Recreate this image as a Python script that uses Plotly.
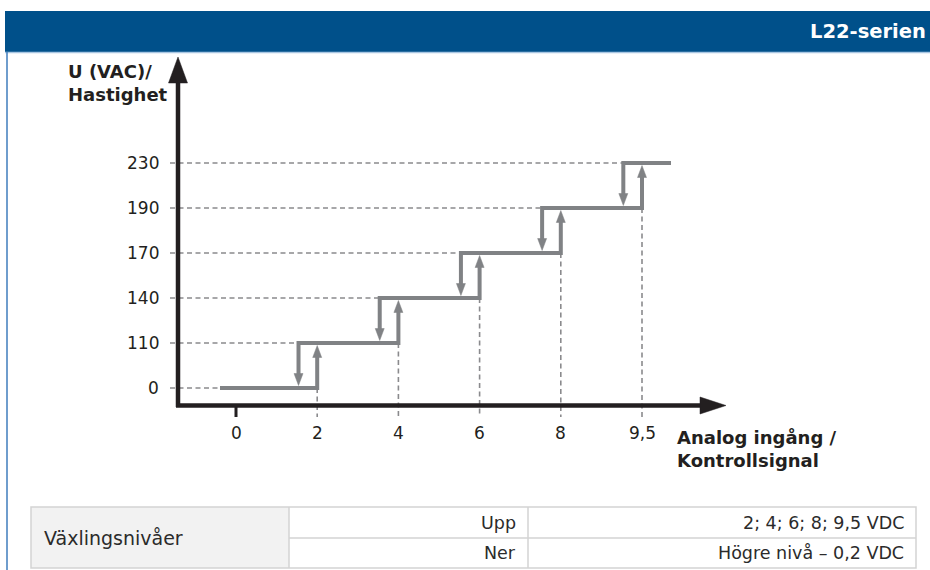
import plotly.graph_objects as go

W, H = 930, 570

# ---------------- data ----------------
header_text = "L22-serien"
y_levels = [0, 110, 140, 170, 190, 230]            # U (VAC) / Hastighet
y_tick_labels = ["0", "110", "140", "170", "190", "230"]
x_switch = [0, 2, 4, 6, 8, 9.5]                    # VDC switching levels
x_tick_labels = ["0", "2", "4", "6", "8", "9,5"]
y_title = "U (VAC)/<br>Hastighet"
x_title = "Analog ingång /<br>Kontrollsignal"
table_label = "Växlingsnivåer"
table_dirs = ["Upp", "Ner"]
table_vals = ["2; 4; 6; 8; 9,5 VDC", "Högre nivå – 0,2 VDC"]

# ---------------- layout / scale helpers ----------------
X0, DX = 236.0, 81.2     # pixel of schematic position 0, pixels per position
Y0, DY = 388.0, 45.0     # pixel of level 0, pixels per level


def dx(p):
    return (p - X0) / DX


def dy(p):
    return (Y0 - p) / DY


def px(p):
    return p / W


def py(p):
    return 1 - p / H


STEP_C = "#808285"
DASH_C = "#8a8a8d"
AX_C = "#231f20"
TXT_C = "#231f20"
DOWN_SHIFT = 0.23          # schematic shift of the "Ner" switching point
GAPY = 2.5 / DY
HEADY = 12 / DY
HW = 9 / DX

n = len(y_levels)
pos = list(range(n))        # schematic positions of x_switch / y_levels

fig = go.Figure()

# dashed guides: horizontal
hx, hy = [], []
for j in pos:
    xs_start = dx(220) if j == 0 else j - DOWN_SHIFT
    hx += [dx(170), xs_start, None]
    hy += [j, j, None]
# dashed guides: vertical
for i in pos[1:]:
    hx += [i, i, None]
    hy += [i - 1, dy(417), None]
fig.add_trace(go.Scatter(x=hx, y=hy, mode="lines", hoverinfo="skip",
                         line=dict(color=DASH_C, width=1.6, dash="5px,3.5px")))

# axes
fig.add_trace(go.Scatter(x=[dx(178), dx(178), None, dx(176), dx(703)],
                         y=[dy(407), dy(80), None, dy(405.5), dy(405.5)],
                         mode="lines", hoverinfo="skip",
                         line=dict(color=AX_C, width=4.5)))
fig.add_trace(go.Scatter(x=[pos[0], pos[0]], y=[dy(407), dy(417)], mode="lines",
                         hoverinfo="skip", line=dict(color=AX_C, width=3)))
# axis arrowheads
fig.add_trace(go.Scatter(
    x=[dx(178 - 9.5), dx(178), dx(178 + 9.5), dx(178 - 9.5), None,
       dx(700), dx(726), dx(700), dx(700)],
    y=[dy(83), dy(57), dy(83), dy(83), None,
       dy(405.5 - 8.5), dy(405.5), dy(405.5 + 8.5), dy(405.5 - 8.5)],
    mode="lines", fill="toself", fillcolor=AX_C, hoverinfo="skip",
    line=dict(color=AX_C, width=0.5)))

# step lines
sx, sy = [], []
for j in pos:
    if j == 0:
        sx += [dx(220)]
        sy += [j]
    else:
        xd = j - DOWN_SHIFT
        sx += [xd, xd]
        sy += [j - 1 + GAPY + HEADY - 1 / DY, j]
    if j < n - 1:
        sx += [j + 1, j + 1]
        sy += [j, j + 1 - GAPY - HEADY + 1 / DY]
    else:
        sx += [dx(671)]
        sy += [j]
    sx.append(None)
    sy.append(None)
fig.add_trace(go.Scatter(x=sx, y=sy, mode="lines", hoverinfo="skip",
                         line=dict(color=STEP_C, width=4)))

# arrowheads on steps
ax_, ay_ = [], []
for j in pos[1:]:
    # up arrow at switch position j
    tip = j - GAPY
    ax_ += [j - HW / 2, j, j + HW / 2, j - HW / 2, None]
    ay_ += [tip - HEADY, tip, tip - HEADY, tip - HEADY, None]
    # down arrow
    xd = j - DOWN_SHIFT
    tip = j - 1 + GAPY
    ax_ += [xd - HW / 2, xd, xd + HW / 2, xd - HW / 2, None]
    ay_ += [tip + HEADY, tip, tip + HEADY, tip + HEADY, None]
fig.add_trace(go.Scatter(x=ax_, y=ay_, mode="lines", fill="toself",
                         fillcolor=STEP_C, hoverinfo="skip",
                         line=dict(color=STEP_C, width=0.5)))

ann = []
TICK_FONT = dict(family="DejaVu Sans", size=17, color=TXT_C)
for j, lab in zip(pos, y_tick_labels):
    ann.append(dict(x=dx(161), y=j, xref="x", yref="y", text=lab, showarrow=False,
                    xanchor="right", yanchor="middle", font=TICK_FONT))
for i, lab in zip(pos, x_tick_labels):
    ann.append(dict(x=i, y=dy(433), xref="x", yref="y", text=lab, showarrow=False,
                    xanchor="center", yanchor="middle", font=TICK_FONT))
TITLE_FONT = dict(family="DejaVu Sans", size=18, color=TXT_C)


def bold_lines(t):
    return "<br>".join("<b>" + s + "</b>" for s in t.split("<br>"))


ann.append(dict(x=dx(66), y=dy(82.5), xref="x", yref="y", text=bold_lines(y_title),
                showarrow=False, xanchor="left", yanchor="middle", align="left",
                font=TITLE_FONT))
ann.append(dict(x=dx(675), y=dy(449), xref="x", yref="y", text=bold_lines(x_title),
                showarrow=False, xanchor="left", yanchor="middle", align="left",
                font=TITLE_FONT))

# header
shapes = [
    dict(type="rect", xref="paper", yref="paper", x0=px(5), x1=px(930), y0=py(11), y1=py(52),
         fillcolor="#00508a", line=dict(width=0), layer="below"),
    dict(type="line", xref="paper", yref="paper", x0=px(5), x1=px(930), y0=py(52.5), y1=py(52.5),
         line=dict(color="#a9c6e2", width=1.5)),
    dict(type="line", xref="paper", yref="paper", x0=px(7), x1=px(7), y0=py(52), y1=py(570),
         line=dict(color="#3f7cbc", width=1.5)),
]
ann.append(dict(x=px(928), y=py(32), xref="paper", yref="paper", text="<b>" + header_text + "</b>",
                showarrow=False, xanchor="right", yanchor="middle",
                font=dict(family="DejaVu Sans", size=19.5, color="white")))

# table
T_L, T_R, T_T, T_B = 31, 916, 507, 568
C1, C2, R1 = 289, 528, 538
BORDER = dict(color="#d3d3d3", width=1.5)
shapes += [
    dict(type="rect", xref="paper", yref="paper", x0=px(T_L), x1=px(C1), y0=py(T_T), y1=py(T_B),
         fillcolor="#f2f2f2", line=dict(width=0), layer="below"),
    dict(type="rect", xref="paper", yref="paper", x0=px(T_L), x1=px(T_R), y0=py(T_T), y1=py(T_B),
         line=BORDER),
    dict(type="line", xref="paper", yref="paper", x0=px(C1), x1=px(C1), y0=py(T_T), y1=py(T_B), line=BORDER),
    dict(type="line", xref="paper", yref="paper", x0=px(C2), x1=px(C2), y0=py(T_T), y1=py(T_B), line=BORDER),
    dict(type="line", xref="paper", yref="paper", x0=px(C1), x1=px(T_R), y0=py(R1), y1=py(R1), line=BORDER),
]
LABEL_FONT = dict(family="DejaVu Sans", size=19, color="#2b2b2b")
TAB_FONT = dict(family="DejaVu Sans", size=17.5, color="#2b2b2b")
ann.append(dict(x=px(42), y=py((T_T + T_B) / 2), xref="paper", yref="paper", text=table_label,
                showarrow=False, xanchor="left", yanchor="middle", font=LABEL_FONT))
row_mid = [(T_T + R1) / 2, (R1 + T_B) / 2]
for k in range(len(table_dirs)):
    ann.append(dict(x=px(C2 - 10), y=py(row_mid[k]), xref="paper", yref="paper", text=table_dirs[k],
                    showarrow=False, xanchor="right", yanchor="middle", font=TAB_FONT))
    ann.append(dict(x=px(T_R - 10), y=py(row_mid[k]), xref="paper", yref="paper", text=table_vals[k],
                    showarrow=False, xanchor="right", yanchor="middle", font=TAB_FONT))

fig.update_layout(
    width=W, height=H, margin=dict(l=0, r=0, t=0, b=0),
    paper_bgcolor="white", plot_bgcolor="white", showlegend=False,
    xaxis=dict(visible=False, range=[dx(0), dx(W)], fixedrange=True),
    yaxis=dict(visible=False, range=[dy(H), dy(0)], fixedrange=True),
    annotations=ann, shapes=shapes,
)

fig.write_html("out.html", config={"displayModeBar": False},
               post_script="document.body.style.margin='0';document.body.style.overflow='hidden';")
